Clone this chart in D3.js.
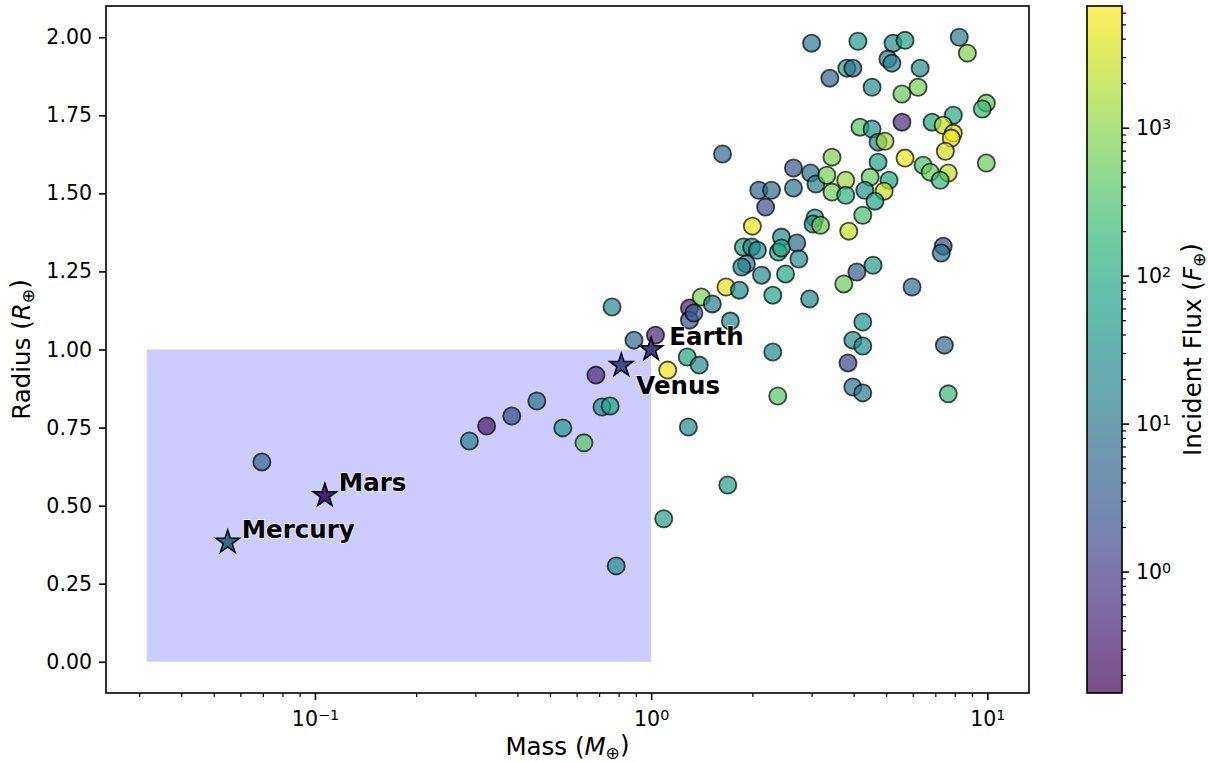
<!DOCTYPE html>
<html>
<head>
<meta charset="utf-8">
<script src="https://cdn.jsdelivr.net/npm/d3@7"></script>
<style>
  body { margin: 0; background: #fff; }
  svg text { font-family: "DejaVu Sans", sans-serif; fill: #000; }
</style>
</head>
<body>
<div id="root"></div>
<script>
// Planet sample: mass (Earth masses), radius (Earth radii), incident flux (Earth flux)
const mass = [
  0.0695, 0.288, 0.324, 0.385, 0.457, 0.546, 0.631, 0.685, 0.714, 0.755,
  0.765, 0.787, 0.889, 1.03, 1.12, 1.09, 1.29, 1.28, 1.39, 1.30,
  1.30, 1.34, 1.41, 1.52, 1.63, 1.67, 1.72, 1.69, 2.00, 1.83,
  1.88, 1.99, 2.07, 1.92, 1.86, 2.13, 2.51, 2.30, 2.96, 2.09,
  2.28, 2.19, 2.65, 2.98, 3.09, 3.33, 3.45, 3.45, 2.65, 3.07,
  3.03, 3.19, 2.44, 2.71, 2.39, 2.44, 2.75, 3.00, 4.12, 5.24,
  5.69, 8.25, 8.72, 5.06, 5.20, 6.31, 3.82, 3.98, 3.40, 4.54,
  6.22, 5.57, 9.93, 9.66, 5.57, 6.85, 7.92, 7.39, 7.92, 7.81,
  7.50, 4.18, 4.54, 4.73, 4.96, 5.69, 4.73, 6.44, 6.76, 7.65,
  9.93, 3.79, 4.48, 5.10, 7.24, 3.79, 4.32, 4.93, 4.63, 4.26,
  3.87, 7.39, 7.29, 4.57, 4.09, 3.74, 5.97, 4.26, 2.30, 2.38,
  3.98, 4.26, 3.85, 3.98, 4.26, 7.45, 7.65
];
const radius = [
  0.640, 0.707, 0.755, 0.787, 0.835, 0.749, 0.701, 0.918, 0.816, 0.819,
  1.136, 0.307, 1.030, 1.046, 0.934, 0.458, 0.752, 0.976, 0.950, 1.133,
  1.094, 1.117, 1.168, 1.146, 1.626, 1.200, 1.091, 0.566, 1.395, 1.190,
  1.328, 1.328, 1.318, 1.274, 1.264, 1.238, 1.242, 1.174, 1.162, 1.510,
  1.510, 1.456, 1.581, 1.565, 1.530, 1.558, 1.616, 1.504, 1.517, 1.421,
  1.402, 1.398, 1.360, 1.341, 1.312, 1.325, 1.290, 1.981, 1.987, 1.981,
  1.990, 2.000, 1.949, 1.930, 1.917, 1.901, 1.901, 1.901, 1.869, 1.840,
  1.840, 1.818, 1.789, 1.770, 1.728, 1.728, 1.750, 1.718, 1.693, 1.677,
  1.635, 1.712, 1.706, 1.664, 1.667, 1.613, 1.600, 1.590, 1.568, 1.565,
  1.597, 1.542, 1.552, 1.542, 1.542, 1.494, 1.510, 1.507, 1.475, 1.430,
  1.379, 1.331, 1.309, 1.270, 1.248, 1.210, 1.200, 1.088, 0.992, 0.851,
  1.030, 1.011, 0.957, 0.880, 0.861, 1.014, 0.858
];
const flux = [
  5, 20, 0.3, 1.5, 8, 50, 400, 0.5, 30, 80,
  25, 25, 6, 0.5, 5000, 70, 25, 80, 30, 0.4,
  2, 3, 800, 12, 6, 4500, 25, 70, 5000, 25,
  60, 30, 25, 8, 20, 30, 100, 80, 25, 5,
  6, 2, 3, 8, 15, 700, 800, 600, 10, 70,
  30, 600, 25, 6, 100, 70, 30, 12, 60, 30,
  70, 12, 800, 15, 20, 30, 80, 8, 5, 30,
  700, 500, 500, 200, 0.6, 80, 100, 2500, 4000, 6000,
  3000, 400, 40, 25, 1500, 5000, 80, 300, 600, 2500,
  600, 1200, 500, 80, 200, 150, 40, 3000, 80, 300,
  2500, 2, 10, 60, 4, 600, 7, 40, 25, 400,
  40, 30, 1.5, 10, 12, 6, 200
];

// Solar system planets
const planetNames = ["Mercury", "Venus", "Earth", "Mars"];
const planetMass = [0.055, 0.815, 1.0, 0.107];
const planetRadius = [0.383, 0.949, 1.0, 0.532];
const planetFlux = [6.67, 1.91, 1.0, 0.43];

// Shaded region
const boxMass = [0.0316, 1];
const boxRadius = [0, 1];

// Ticks
const xTicks = [0.1, 1, 10];
const yTicks = [0, 0.25, 0.5, 0.75, 1.0, 1.25, 1.5, 1.75, 2.0];
const cTicks = [1, 10, 100, 1000];

// Label offsets (px) for planet names
const labelOffset = {
  Mercury: [14, -4],
  Venus: [15, 29],
  Earth: [18, -5],
  Mars: [14, -5],
};

const width = 1208;
const height = 762;
const plot = { left: 106, right: 1029, top: 6, bottom: 693 };
const cbar = { left: 1087, right: 1122 };
const tickFont = 20.5;
const labelFont = 24.5;

const svg = d3
  .select("#root")
  .append("svg")
  .attr("width", width)
  .attr("height", height);

// Scales
const x = d3.scaleLog().domain([0.0239, 13.3]).range([plot.left, plot.right]);
const y = d3.scaleLinear().domain([-0.1, 2.1]).range([plot.bottom, plot.top]);
const fluxDomain = [0.151, 6650];
const cNorm = d3.scaleLog().domain(fluxDomain).range([0, 1]);
const color = (f) => d3.interpolateViridis(cNorm(f));
const cy = d3.scaleLog().domain(fluxDomain).range([plot.bottom, plot.top]);

// minor tick values for a log domain
function minorTicks(domain) {
  const out = [];
  for (let e = -3; e <= 4; e++) {
    for (let k = 2; k <= 9; k++) {
      const v = k * Math.pow(10, e);
      if (v >= domain[0] && v <= domain[1]) out.push(v);
    }
  }
  return out;
}

function supLabel(sel) {
  sel.each(function (d) {
    const t = d3.select(this);
    const e = Math.round(Math.log10(d));
    t.text(null);
    t.append("tspan").text("10");
    t.append("tspan")
      .attr("dy", "-0.42em")
      .style("font-size", "0.7em")
      .text(e < 0 ? "\u2212" + -e : e);
  });
}

// label with an italic symbol and a subscript circled plus
function mathLabel(text, name, sym) {
  text.append("tspan").text(name + " (");
  text.append("tspan").style("font-style", "italic").text(sym);
  text.append("tspan").attr("dy", "0.25em").style("font-size", "0.7em").text("\u2295");
  text.append("tspan").attr("dy", "-0.25em").text(")");
}

// Shaded box
svg
  .append("rect")
  .attr("x", x(boxMass[0]))
  .attr("y", y(boxRadius[1]))
  .attr("width", x(boxMass[1]) - x(boxMass[0]))
  .attr("height", y(boxRadius[0]) - y(boxRadius[1]))
  .attr("fill", "#ccccff");

// Points
const points = mass.map((m, i) => ({ m, r: radius[i], f: flux[i] }));
svg
  .append("g")
  .selectAll("circle")
  .data(points)
  .enter()
  .append("circle")
  .attr("cx", (d) => x(d.m))
  .attr("cy", (d) => y(d.r))
  .attr("r", 8.6)
  .attr("fill", (d) => color(d.f))
  .attr("fill-opacity", 0.7)
  .attr("stroke", "#000")
  .attr("stroke-opacity", 0.7)
  .attr("stroke-width", 1.8);

// Planets (stars)
const planets = planetNames.map((name, i) => ({
  name,
  m: planetMass[i],
  r: planetRadius[i],
  f: planetFlux[i],
}));
const star = d3.symbol().type(d3.symbolStar).size(170);
svg
  .append("g")
  .selectAll("path")
  .data(planets)
  .enter()
  .append("path")
  .attr("d", star)
  .attr("transform", (d) => `translate(${x(d.m)},${y(d.r)})`)
  .attr("fill", (d) => color(d.f))
  .attr("stroke", "#000")
  .attr("stroke-width", 1.5)
  .attr("stroke-linejoin", "miter");

svg
  .append("g")
  .selectAll("text")
  .data(planets)
  .enter()
  .append("text")
  .attr("x", (d) => x(d.m) + labelOffset[d.name][0])
  .attr("y", (d) => y(d.r) + labelOffset[d.name][1])
  .style("font-size", "24.5px")
  .style("font-weight", "bold")
  .style("stroke", "#fff")
  .style("stroke-width", 2)
  .style("stroke-opacity", 0.6)
  .style("paint-order", "stroke")
  .text((d) => d.name);

// Axes
const tickStyle = (g) => {
  g.select(".domain").remove();
  g.selectAll("line").attr("stroke", "#000").attr("stroke-width", 1.6);
  g.selectAll("text").style("font-size", tickFont + "px");
};

const xAxisG = svg
  .append("g")
  .attr("transform", `translate(0,${plot.bottom})`)
  .call(d3.axisBottom(x).tickValues(xTicks).tickSize(7).tickPadding(7))
  .call(tickStyle);
xAxisG.selectAll(".tick text").attr("y", 33).attr("dy", 0).call(supLabel);

svg
  .append("g")
  .attr("transform", `translate(0,${plot.bottom})`)
  .call(
    d3.axisBottom(x).tickValues(minorTicks(x.domain())).tickSize(4).tickFormat("")
  )
  .call(tickStyle)
  .selectAll("line")
  .attr("stroke-width", 1.2);

svg
  .append("g")
  .attr("transform", `translate(${plot.left},0)`)
  .call(
    d3
      .axisLeft(y)
      .tickValues(yTicks)
      .tickFormat(d3.format(".2f"))
      .tickSize(7)
      .tickPadding(7)
  )
  .call(tickStyle);

// Spines
svg
  .append("rect")
  .attr("x", plot.left)
  .attr("y", plot.top)
  .attr("width", plot.right - plot.left)
  .attr("height", plot.bottom - plot.top)
  .attr("fill", "none")
  .attr("stroke", "#000")
  .attr("stroke-width", 1.6);

// Axis labels
svg
  .append("text")
  .attr("x", (plot.left + plot.right) / 2)
  .attr("y", 755)
  .attr("text-anchor", "middle")
  .style("font-size", labelFont + "px")
  .call(mathLabel, "Mass", "M");

svg
  .append("text")
  .attr("transform", `translate(30,${(plot.top + plot.bottom) / 2}) rotate(-90)`)
  .attr("text-anchor", "middle")
  .style("font-size", labelFont + "px")
  .call(mathLabel, "Radius", "R");

// Colorbar
const defs = svg.append("defs");
const grad = defs
  .append("linearGradient")
  .attr("id", "viridis")
  .attr("x1", 0)
  .attr("y1", 1)
  .attr("x2", 0)
  .attr("y2", 0);
d3.range(0, 1.0001, 0.05).forEach((t) => {
  grad
    .append("stop")
    .attr("offset", t)
    .attr("stop-color", d3.interpolateViridis(t))
    .attr("stop-opacity", 0.7);
});
svg
  .append("rect")
  .attr("x", cbar.left)
  .attr("y", plot.top)
  .attr("width", cbar.right - cbar.left)
  .attr("height", plot.bottom - plot.top)
  .attr("fill", "url(#viridis)")
  .attr("stroke", "#000")
  .attr("stroke-width", 1.6);

const cAxisG = svg
  .append("g")
  .attr("transform", `translate(${cbar.right},0)`)
  .call(d3.axisRight(cy).tickValues(cTicks).tickSize(7).tickPadding(7))
  .call(tickStyle);
cAxisG.selectAll(".tick text").call(supLabel);

svg
  .append("g")
  .attr("transform", `translate(${cbar.right},0)`)
  .call(d3.axisRight(cy).tickValues(minorTicks(fluxDomain)).tickSize(4).tickFormat(""))
  .call(tickStyle)
  .selectAll("line")
  .attr("stroke-width", 1.2);

svg
  .append("text")
  .attr("transform", `translate(1201,${(plot.top + plot.bottom) / 2}) rotate(-90)`)
  .attr("text-anchor", "middle")
  .style("font-size", labelFont + "px")
  .call(mathLabel, "Incident Flux", "F");
</script>
</body>
</html>
